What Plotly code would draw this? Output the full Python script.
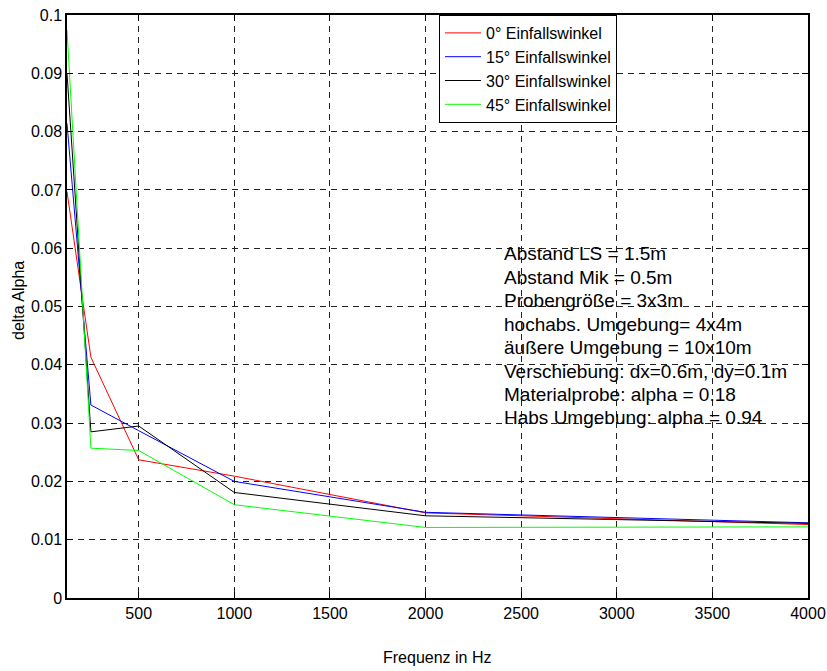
import plotly.graph_objects as go

freq = [125, 250, 500, 1000, 2000, 4000]
alpha_0 = [0.0697, 0.0413, 0.0237, 0.0209, 0.0146, 0.0126]
alpha_15 = [0.0814, 0.0331, 0.0287, 0.0200, 0.0147, 0.0129]
alpha_30 = [0.0900, 0.0285, 0.0295, 0.0181, 0.0141, 0.0128]
alpha_45 = [0.0974, 0.0257, 0.0253, 0.0160, 0.0121, 0.0122]

series_names = ["0° Einfallswinkel", "15° Einfallswinkel", "30° Einfallswinkel", "45° Einfallswinkel"]
series_colors = ["#ff0000", "#0000ff", "#000000", "#00ff00"]

x_ticks = [500, 1000, 1500, 2000, 2500, 3000, 3500, 4000]
y_ticks = [0, 0.01, 0.02, 0.03, 0.04, 0.05, 0.06, 0.07, 0.08, 0.09, 0.1]
y_ticktext = ["0", "0.01", "0.02", "0.03", "0.04", "0.05", "0.06", "0.07", "0.08", "0.09", "0.1"]

x_title = "Frequenz in Hz"
y_title = "delta Alpha"

info_lines = [
    "Abstand LS = 1.5m",
    "Abstand Mik = 0.5m",
    "Probengröße = 3x3m",
    "hochabs. Umgebung= 4x4m",
    "äußere Umgebung = 10x10m",
    "Verschiebung: dx=0.6m, dy=0.1m",
    "Materialprobe: alpha = 0.18",
    "Habs Umgebung: alpha = 0.94",
]

FONT = "Liberation Sans, Arial, sans-serif"

fig = go.Figure()
for name, col, vals in zip(series_names, series_colors, [alpha_0, alpha_15, alpha_30, alpha_45]):
    fig.add_trace(go.Scatter(x=freq, y=vals, mode="lines", name=name,
                             line=dict(color=col, width=1)))

W, H = 827, 671
# plot area edges in pixels
PL, PR, PT, PB = 67, 808, 15, 598
L, T, R, B = PL, PT, W - PR, H - PB
plot_w = W - L - R
plot_h = H - T - B


def px_x(px):
    return (px - PL) / plot_w


def px_y(py):
    return 1 - (py - PT) / plot_h


annotations = []
for i, txt in enumerate(info_lines):
    ypx = 254 + 23.4 * i
    annotations.append(dict(
        text=txt, xref="paper", yref="paper",
        x=px_x(502), y=px_y(ypx),
        xanchor="left", yanchor="middle", showarrow=False,
        font=dict(family=FONT, size=19, color="black"),
    ))

annotations.append(dict(
    text=x_title, xref="paper", yref="paper", x=px_x(437), y=px_y(657),
    xanchor="center", yanchor="middle", showarrow=False,
    font=dict(family=FONT, size=16, color="black"),
))
annotations.append(dict(
    text=y_title, xref="paper", yref="paper", x=px_x(18), y=px_y(301),
    xanchor="center", yanchor="middle", showarrow=False, textangle=-90,
    font=dict(family=FONT, size=16, color="black"),
))

axis_common = dict(
    showline=True, linecolor="black", linewidth=1.5, mirror="ticks",
    ticks="inside", ticklen=6, tickcolor="black", tickwidth=1,
    showgrid=True, gridcolor="#222222", gridwidth=1, griddash="6px,5px",
    zeroline=False, automargin=False, ticklabeloverflow="allow",
    tickfont=dict(family=FONT, size=16, color="black"),
)

fig.update_layout(
    width=W, height=H,
    margin=dict(l=L, r=R, t=T, b=B, autoexpand=False),
    paper_bgcolor="white", plot_bgcolor="white",
    font=dict(family=FONT, color="black"),
    xaxis=dict(range=[125, 4000], tickvals=x_ticks, **axis_common),
    yaxis=dict(range=[0, 0.1], tickvals=y_ticks, ticktext=y_ticktext, **axis_common),
    legend=dict(x=px_x(439), y=1, xanchor="left", yanchor="top",
                bgcolor="white", bordercolor="black", borderwidth=1,
                font=dict(family=FONT, size=16, color="black"),
                itemwidth=36, tracegroupgap=0),
    annotations=annotations,
    showlegend=True,
)

fig.write_html("out.html",
               config={"displayModeBar": False},
               post_script="document.body.style.margin='0';document.body.style.overflow='hidden';")
